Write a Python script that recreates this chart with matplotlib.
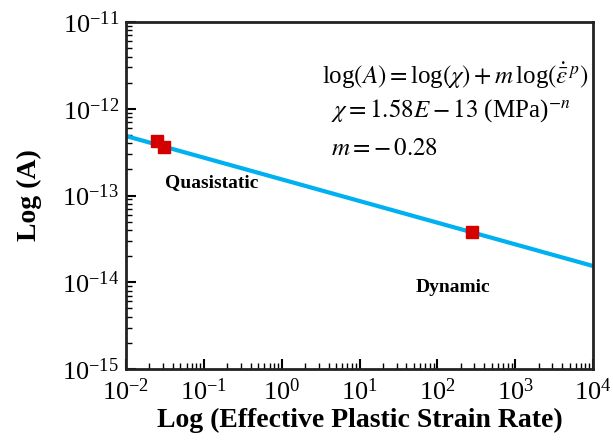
import matplotlib
matplotlib.use("Agg")
import matplotlib.pyplot as plt
from matplotlib.ticker import LogLocator, NullFormatter

plt.rcParams['font.family'] = ['Liberation Serif', 'DejaVu Serif']
plt.rcParams['mathtext.fontset'] = 'stix'

# Fitted power-law line (endpoints) and measured points
fit_rate = [1e-2, 1e4]
fit_A = [4.85e-13, 1.54e-14]
quasi_rate = [0.025, 0.031]
quasi_A = [4.2e-13, 3.6e-13]
dyn_rate = [282]
dyn_A = [3.8e-14]

x_ticks = [1e-2, 1e-1, 1e0, 1e1, 1e2, 1e3, 1e4]
x_tick_labels = [r'$\mathregular{10^{-2}}$', r'$\mathregular{10^{-1}}$', r'$\mathregular{10^{0}}$',
                 r'$\mathregular{10^{1}}$', r'$\mathregular{10^{2}}$', r'$\mathregular{10^{3}}$',
                 r'$\mathregular{10^{4}}$']
y_ticks = [1e-15, 1e-14, 1e-13, 1e-12, 1e-11]
y_tick_labels = [r'$\mathregular{10^{-15}}$', r'$\mathregular{10^{-14}}$', r'$\mathregular{10^{-13}}$',
                 r'$\mathregular{10^{-12}}$', r'$\mathregular{10^{-11}}$']

fig = plt.figure(figsize=(6.13, 4.47), dpi=100)
ax = fig.add_axes([126 / 613, 1 - 369 / 447, (593 - 126) / 613, (369 - 22) / 447])

ax.plot(fit_rate, fit_A, color='#00b0f0', lw=3, solid_capstyle='butt', zorder=2)
ax.plot(quasi_rate, quasi_A, 's', color='#d40000', ms=8, mec='#d40000', zorder=3)
ax.plot(dyn_rate, dyn_A, 's', color='#d40000', ms=8, mec='#d40000', zorder=3)

ax.set_xscale('log')
ax.set_yscale('log')
ax.set_xlim(1e-2, 1e4)
ax.set_ylim(1e-15, 1e-11)

ax.set_xticks(x_ticks)
ax.set_xticklabels(x_tick_labels, fontsize=19)
ax.set_yticks(y_ticks)
ax.set_yticklabels(y_tick_labels, fontsize=19)
ax.xaxis.set_minor_locator(LogLocator(base=10, subs=range(2, 10), numticks=20))
ax.yaxis.set_minor_locator(LogLocator(base=10, subs=range(2, 10), numticks=20))
ax.xaxis.set_minor_formatter(NullFormatter())
ax.yaxis.set_minor_formatter(NullFormatter())
ax.tick_params(which='major', direction='in', length=7, width=1.5, top=False, right=False)
ax.tick_params(axis='x', which='major', pad=7)
ax.tick_params(axis='y', which='major', pad=5)
ax.tick_params(which='minor', direction='in', length=4, width=1, top=False, right=False)

for s in ax.spines.values():
    s.set_linewidth(2)
    s.set_color('#222222')

ax.set_xlabel('Log (Effective Plastic Strain Rate)', fontsize=20, fontweight='bold', labelpad=2)
ax.set_ylabel('Log (A)', fontsize=20, fontweight='bold', labelpad=14)

ax.text(0.084, 0.537, 'Quasistatic', transform=ax.transAxes, fontsize=14, fontweight='bold',
        ha='left', va='center')
ax.text(0.70, 0.235, 'Dynamic', transform=ax.transAxes, fontsize=14, fontweight='bold',
        ha='center', va='center')

ax.text(0.99, 0.845, r'$\mathregular{log}(A) = \mathregular{log}(\chi) + m\,\mathregular{log}(\dot{\bar{\varepsilon}}^{\,p})$',
        transform=ax.transAxes, fontsize=18, ha='right', va='center')
ax.text(0.44, 0.745, r'$\chi = 1.58E - 13\ \mathregular{(MPa)}^{-n}$',
        transform=ax.transAxes, fontsize=18, ha='left', va='center')
ax.text(0.44, 0.635, r'$m = -\,0.28$',
        transform=ax.transAxes, fontsize=18, ha='left', va='center')

fig.savefig('out.png', dpi=100)
